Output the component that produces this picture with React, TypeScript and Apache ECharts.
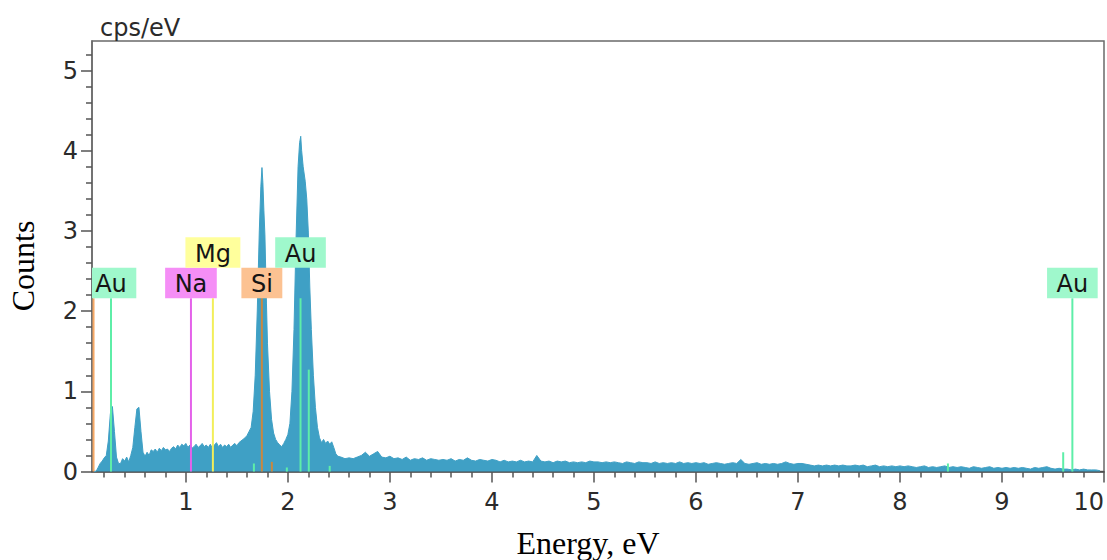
import React, { useEffect, useRef } from "react";
import * as echarts from "echarts";

// ---------- spectrum data (cps/eV) ----------
const LOW_START = 0.1;
const LOW_STEP = 0.02;
const lowCounts = [
  0.0, 0.0, 0.05, 0.1, 0.13, 0.17, 0.2, 0.38, 0.72, 0.81,
  0.5, 0.18, 0.1, 0.1, 0.16, 0.13, 0.18, 0.12, 0.2, 0.3,
  0.55, 0.78, 0.8, 0.5, 0.24, 0.19, 0.24, 0.2, 0.27, 0.25,
  0.28, 0.24, 0.29, 0.26, 0.3, 0.27, 0.28, 0.25, 0.29, 0.31,
  0.28, 0.33, 0.3, 0.34, 0.32, 0.35, 0.3, 0.33, 0.29, 0.31,
  0.34, 0.3, 0.32, 0.35, 0.31, 0.33, 0.3, 0.34, 0.29, 0.33,
  0.36, 0.31, 0.34, 0.3, 0.33, 0.31, 0.34, 0.3, 0.33, 0.35,
  0.32, 0.36, 0.38, 0.4, 0.42,
];

const peakEnergies = [
  1.6, 1.62, 1.64, 1.66, 1.68, 1.7, 1.72, 1.735, 1.746, 1.755, 1.765, 1.775,
  1.79, 1.8, 1.82, 1.84, 1.86, 1.88, 1.9, 1.92, 1.94, 1.96, 1.98, 2.0, 2.02,
  2.04, 2.06, 2.08, 2.1, 2.115, 2.126, 2.135, 2.15, 2.17, 2.185, 2.2, 2.215,
  2.23, 2.25, 2.27, 2.29, 2.31, 2.33, 2.35, 2.37, 2.39, 2.41, 2.43, 2.45,
  2.47, 2.49,
];
const peakCounts = [
  0.45, 0.5, 0.55, 0.75, 1.2, 2.0, 3.0, 3.55, 3.79, 3.6, 3.25, 2.95,
  2.1, 1.6, 1.0, 0.65, 0.48, 0.4, 0.36, 0.33, 0.31, 0.35, 0.4, 0.46, 0.6,
  1.0, 1.77, 2.9, 3.8, 4.1, 4.18, 4.0, 3.8, 3.62, 3.4, 3.0, 2.3,
  1.77, 1.2, 0.8, 0.55, 0.42, 0.36, 0.4, 0.35, 0.38, 0.34, 0.37, 0.3,
  0.22, 0.19,
];

const HIGH_START = 2.52;
const HIGH_STEP = 0.04;
const highCounts = [
  0.18, 0.16, 0.17, 0.16, 0.18, 0.2, 0.24, 0.19, 0.22, 0.25, 0.18, 0.17, 0.19,
  0.16, 0.17, 0.15, 0.18, 0.14, 0.16, 0.15, 0.17, 0.14, 0.16, 0.15, 0.14,
  0.15, 0.14, 0.16, 0.13, 0.15, 0.14, 0.17, 0.14, 0.13, 0.15, 0.14, 0.13, 0.15,
  0.14, 0.12, 0.14, 0.12, 0.13, 0.12, 0.14, 0.12, 0.13, 0.12, 0.2, 0.13,
  0.12, 0.13, 0.11, 0.13, 0.12, 0.13, 0.11, 0.12, 0.11, 0.12, 0.11, 0.13, 0.12,
  0.12, 0.11, 0.12, 0.11, 0.12, 0.11, 0.1, 0.12, 0.11, 0.1, 0.12, 0.11,
  0.11, 0.1, 0.12, 0.1, 0.11, 0.1, 0.11, 0.1, 0.12, 0.1, 0.11, 0.1, 0.11,
  0.1, 0.11, 0.09, 0.1, 0.11, 0.1, 0.09, 0.1, 0.11, 0.1, 0.15, 0.1,
  0.09, 0.1, 0.11, 0.09, 0.1, 0.09, 0.1, 0.09, 0.1, 0.12, 0.1, 0.09, 0.1,
  0.1, 0.09, 0.08, 0.07, 0.08, 0.07, 0.08, 0.07, 0.08, 0.07, 0.08, 0.07,
  0.07, 0.08, 0.07, 0.08, 0.06, 0.07, 0.08, 0.06, 0.07, 0.06, 0.07, 0.06, 0.07,
  0.06, 0.07, 0.06, 0.05, 0.06, 0.07, 0.05, 0.06, 0.05, 0.06, 0.07, 0.05,
  0.06, 0.05, 0.06, 0.05, 0.04, 0.06, 0.05, 0.04, 0.05, 0.06, 0.04, 0.05, 0.04,
  0.05, 0.04, 0.05, 0.04, 0.05, 0.04, 0.03, 0.05, 0.04, 0.05, 0.06, 0.04,
  0.03, 0.04, 0.03, 0.03, 0.02, 0.03, 0.02, 0.03, 0.02, 0.02, 0.02, 0.01,
];

// ---------- element markers ----------
const markerElements = ["Au", "Na", "Mg", "Si", "Au", "Au"];
const markerEnergies = [0.266, 1.05, 1.265, 1.745, 2.124, 9.69];
const markerHeights = [2.16, 2.16, 2.16, 2.16, 2.16, 2.16];

const minorLineElements = ["edge", "Au", "Si", "Au", "Au", "Au", "Au", "Au"];
const minorLineEnergies = [0.095, 1.667, 1.843, 1.99, 2.205, 2.41, 8.47, 9.6];
const minorLineHeights = [2.16, 0.1, 0.12, 0.05, 1.27, 0.07, 0.1, 0.24];

// ---------- axes ----------
const X_MIN = 0.08;
const X_MAX = 10;
const Y_MIN = 0;
const Y_MAX = 5.368;
const xMajorTicks = [1, 2, 3, 4, 5, 6, 7, 8, 9, 10];
const yMajorTicks = [0, 1, 2, 3, 4, 5];

// ---------- styles ----------
const SPEC_COLOR = "#3fa0c5";
const elementStyle: Record<string, { line: string; box: string }> = {
  Au: { line: "#5eeea8", box: "#9ff8cc" },
  Na: { line: "#e462ea", box: "#f58ef6" },
  Mg: { line: "#f2ee5a", box: "#ffff9c" },
  Si: { line: "#c98840", box: "#fcc292" },
  edge: { line: "#f6a865", box: "#fcc292" },
};
const TICK_FONT = "DejaVu Sans";
const BOX_FONT_SIZE = 24;
const BOX_PAD = 9.5;
const BOX_H = 30.5;

export default function App() {
  const ref = useRef<HTMLDivElement>(null);

  useEffect(() => {
    document.body.style.margin = "0";
    if (!ref.current) return;
    const chart = echarts.init(ref.current, undefined, { renderer: "svg" });

    const spectrum: number[][] = [];
    lowCounts.forEach((v, i) =>
      spectrum.push([Number((LOW_START + i * LOW_STEP).toFixed(3)), v])
    );
    peakEnergies.forEach((e, i) => spectrum.push([e, peakCounts[i]]));
    highCounts.forEach((v, i) =>
      spectrum.push([Number((HIGH_START + i * HIGH_STEP).toFixed(3)), v])
    );

    const xMinor: number[] = [];
    for (let k = 1; k < 50; k++) if (k % 5 !== 0) xMinor.push(Number((k * 0.2).toFixed(1)));
    const yMinor: number[] = [];
    for (let k = 1; k <= 26; k++) if (k % 5 !== 0) yMinor.push(Number((k * 0.2).toFixed(1)));

    // text measuring
    const cv = document.createElement("canvas");
    const ctx = cv.getContext("2d")!;
    ctx.font = `${BOX_FONT_SIZE}px "${TICK_FONT}"`;
    const textW = (t: string) => ctx.measureText(t).width;

    type M = { name: string; e: number; h: number; label: boolean };
    const markers: M[] = [];
    minorLineEnergies.forEach((e, i) =>
      markers.push({ name: minorLineElements[i], e, h: minorLineHeights[i], label: false })
    );
    markerEnergies.forEach((e, i) =>
      markers.push({ name: markerElements[i], e, h: markerHeights[i], label: true })
    );

    const renderItem = (params: any, api: any) => {
      const idx = api.value(2);
      const m = markers[idx];
      const st = elementStyle[m.name];
      const p0 = api.coord([m.e, 0]);
      const p1 = api.coord([m.e, m.h]);
      const children: any[] = [
        {
          type: "line",
          shape: { x1: p0[0], y1: p0[1], x2: p1[0], y2: p1[1] },
          style: { stroke: st.line, lineWidth: 2 },
        },
      ];
      if (m.label) {
        const gridLeft = params.coordSys.x;
        const labeled = markers
          .map((mm, j) => ({ mm, j }))
          .filter((o) => o.mm.label)
          .sort((a, b) => a.mm.e - b.mm.e);
        const rowEnds: number[] = [];
        let myRow = 0;
        for (const o of labeled) {
          const cx = api.coord([o.mm.e, 0])[0];
          const w = textW(o.mm.name) + 2 * BOX_PAD;
          const l = cx - w / 2;
          let r = 0;
          while (rowEnds[r] !== undefined && rowEnds[r] > l) r++;
          rowEnds[r] = cx + w / 2;
          if (o.j === idx) {
            myRow = r;
            break;
          }
        }
        const w = textW(m.name) + 2 * BOX_PAD;
        let left = p1[0] - w / 2;
        const right = p1[0] + w / 2;
        if (left < gridLeft) left = gridLeft;
        const bottom = p1[1] - myRow * BOX_H;
        children.push({
          type: "rect",
          shape: { x: left, y: bottom - BOX_H, width: right - left, height: BOX_H },
          style: { fill: st.box },
        });
        children.push({
          type: "text",
          x: p1[0],
          y: bottom - BOX_H / 2 + 1,
          style: {
            text: m.name,
            fill: "#151515",
            fontSize: BOX_FONT_SIZE,
            fontFamily: TICK_FONT,
            align: "center",
            verticalAlign: "middle",
          },
        });
      }
      return { type: "group", children };
    };

    const axisLabelStyle = {
      fontSize: 24,
      fontFamily: TICK_FONT,
      color: "#2b2b2b",
    };

    chart.setOption({
      animation: false,
      backgroundColor: "#ffffff",
      grid: {
        left: 92,
        top: 41,
        right: 2,
        bottom: 88.5,
        show: true,
        borderColor: "#6a6a6a",
        borderWidth: 1.5,
        backgroundColor: "transparent",
      },
      xAxis: [
        {
          type: "value",
          min: X_MIN,
          max: X_MAX,
          position: "bottom",
          axisLine: { show: true, onZero: false, lineStyle: { color: "#444", width: 1.5 } },
          axisTick: { show: true, length: 11, customValues: xMajorTicks, lineStyle: { color: "#555", width: 1.5 } },
          axisLabel: { ...axisLabelStyle, customValues: xMajorTicks, margin: 18, alignMaxLabel: "right" },
          splitLine: { show: false },
        },
        {
          type: "value",
          min: X_MIN,
          max: X_MAX,
          position: "bottom",
          axisLine: { show: false, onZero: false },
          axisTick: { show: true, length: 6, customValues: xMinor, lineStyle: { color: "#555", width: 1.5 } },
          axisLabel: { show: false },
          splitLine: { show: false },
        },
      ],
      yAxis: [
        {
          type: "value",
          min: Y_MIN,
          max: Y_MAX,
          position: "left",
          axisLine: { show: true, onZero: false, lineStyle: { color: "#6a6a6a", width: 1.5 } },
          axisTick: { show: true, length: 11, customValues: yMajorTicks, lineStyle: { color: "#555", width: 1.5 } },
          axisLabel: { ...axisLabelStyle, customValues: yMajorTicks, margin: 14 },
          splitLine: { show: false },
        },
        {
          type: "value",
          min: Y_MIN,
          max: Y_MAX,
          position: "left",
          axisLine: { show: false, onZero: false },
          axisTick: { show: true, length: 6, customValues: yMinor, lineStyle: { color: "#555", width: 1.5 } },
          axisLabel: { show: false },
          splitLine: { show: false },
        },
      ],
      series: [
        {
          type: "line",
          xAxisIndex: 0,
          yAxisIndex: 0,
          data: spectrum,
          showSymbol: false,
          symbol: "none",
          lineStyle: { color: SPEC_COLOR, width: 1 },
          areaStyle: { color: SPEC_COLOR, opacity: 1 },
          z: 2,
        },
        {
          type: "custom",
          xAxisIndex: 0,
          yAxisIndex: 0,
          renderItem,
          data: markers.map((m, i) => [m.e, m.h, i]),
          encode: { x: 0, y: 1 },
          z: 5,
        },
      ],
      graphic: [
        {
          type: "text",
          x: 100,
          y: 28,
          style: {
            text: "cps/eV",
            fontSize: 24,
            fontFamily: TICK_FONT,
            fill: "#2b2b2b",
            align: "left",
            verticalAlign: "middle",
          },
        },
        {
          type: "text",
          x: 23,
          y: 266,
          rotation: Math.PI / 2,
          style: {
            text: "Counts",
            fontSize: 32,
            fontFamily: "Liberation Serif",
            fill: "#000",
            align: "center",
            verticalAlign: "middle",
          },
        },
        {
          type: "text",
          x: 588,
          y: 543,
          style: {
            text: "Energy, eV",
            fontSize: 32,
            fontFamily: "Liberation Serif",
            fill: "#000",
            align: "center",
            verticalAlign: "middle",
          },
        },
      ],
    });

    return () => chart.dispose();
  }, []);

  return <div ref={ref} style={{ width: 1107, height: 560 }} />;
}
